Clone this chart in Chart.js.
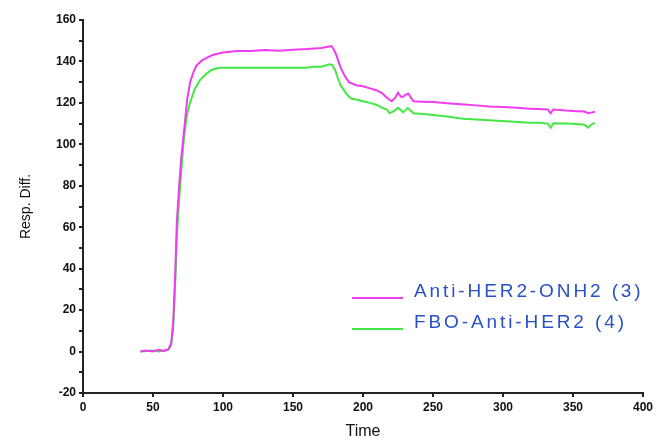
<!DOCTYPE html>
<html>
<head>
<meta charset="utf-8">
<title>Resp. Diff. vs Time</title>
<script src="https://cdn.jsdelivr.net/npm/chart.js@4.4.1/dist/chart.umd.min.js"></script>
<style>
  html, body { margin: 0; padding: 0; background: #fff; }
  #wrap { width: 656px; height: 441px; position: relative; }
</style>
</head>
<body>
<div id="wrap"><canvas id="chart"></canvas></div>
<script>
// series: [time, response]
const antiHer2Onh2 = [
  [41,0],[45,0.5],[50,0],[54,0.8],[58,0.3],[61,1],[63,4],[64.5,15],[66,40],[67,62],
  [68.5,78],[70,92],[71.5,102],[73,112],[74.5,122],[76.5,130],[79,135],[81,138],
  [85,140.5],[90,142.3],[93,143.2],[100,144.3],[110,145],[120,145],[130,145.5],[140,145.2],
  [150,145.7],[160,146],[170,146.5],[174,147],[177.5,147.4],[179,146],[181,143],[184,137],
  [187,133],[190,130],[195,128.5],[200,128],[205,127],[210,126],[214,124.5],[217,122.5],
  [220.5,120.8],[223,122.5],[225,124.9],[227,123],[228.8,123],[230.5,124],[232.4,124.4],
  [236,120.8],[242,120.6],[250,120.4],[260,119.8],[270,119.3],[281,118.8],[290,118.3],
  [300,118],[310,117.6],[319,117.2],[325,117],[332,116.8],[334,115],[336,116.8],[345,116.3],
  [352.6,116],[358,115.8],[361,115],[363,115.3],[365.7,115.7]
];
const fboAntiHer2 = [
  [41,0],[45,0.3],[50,0.5],[54,0],[58,0.5],[61,1],[63,3],[64.5,12],[66,35],[67,55],
  [68.5,72],[70,85],[71.7,100],[73,108],[74.5,115],[76.4,120],[80,127],[83.6,131],
  [88,134],[92,136],[97.9,137],[105,137],[120,137],[140,137],[150,137],[160,137],
  [165,137.5],[170,137.5],[174,138.2],[176,138.6],[178,138.3],[180,136],[182,132],
  [184,128.5],[186,126.5],[188,124.5],[190.7,122.5],[192,122],[196,121.5],[200,120.8],
  [205,120],[210,119],[214,117.5],[217,116.8],[219,115],[222,116],[225,117.6],[227,116.5],
  [228.8,115.5],[230.5,116.5],[232,117.6],[236,115],[245,114.5],[260,113.4],[271.6,112.3],
  [290,111.6],[305,111],[319,110.4],[326,110.4],[332,110],[334,108],[336,110.2],[345,110],
  [352,109.8],[357,109.6],[359,109],[361,108],[363,109.5],[365.7,110.4]
];
const seriesLabels = ['Anti-HER2-ONH2 (3)', 'FBO-Anti-HER2 (4)'];
const seriesColors = ['#f03cf0', '#44e844'];
const xTicks = [0, 50, 100, 150, 200, 250, 300, 350, 400];
const yTicks = [-20, 0, 20, 40, 60, 80, 100, 120, 140, 160];

const toPoints = arr => arr.map(p => ({ x: p[0], y: p[1] }));

// legend sits inside the plot, lower right
const insideLegend = {
  id: 'insideLegend',
  afterDraw(chart) {
    const ctx = chart.ctx;
    const a = chart.chartArea;
    ctx.save();
    ctx.font = '19px "Liberation Sans", Arial, sans-serif';
    ctx.textBaseline = 'middle';
    const rows = [a.bottom - 101, a.bottom - 70];
    seriesLabels.forEach((txt, i) => {
      const y = rows[i];
      ctx.strokeStyle = seriesColors[i];
      ctx.lineWidth = 2;
      ctx.beginPath();
      ctx.moveTo(a.left + 269, y + 6);
      ctx.lineTo(a.left + 320, y + 6);
      ctx.stroke();
      ctx.fillStyle = '#2a50c8';
      ctx.letterSpacing = '2.9px';
      ctx.fillText(txt, a.left + 331, y);
    });
    ctx.restore();
  }
};

new Chart(document.getElementById('chart'), {
  type: 'line',
  data: {
    datasets: [
      { label: seriesLabels[0], data: toPoints(antiHer2Onh2), borderColor: seriesColors[0],
        borderWidth: 2, pointRadius: 0, tension: 0, fill: false },
      { label: seriesLabels[1], data: toPoints(fboAntiHer2), borderColor: seriesColors[1],
        borderWidth: 2, pointRadius: 0, tension: 0, fill: false }
    ]
  },
  options: {
    responsive: true,
    maintainAspectRatio: false,
    animation: false,
    layout: { padding: { top: 20, right: 13, left: 0, bottom: 0 } },
    plugins: { legend: { display: false }, tooltip: { enabled: false } },
    scales: {
      x: {
        type: 'linear',
        min: 0, max: 400,
        afterFit(s) { s.height = 48; },
        afterBuildTicks(s) { s.ticks = xTicks.map(v => ({ value: v })); },
        border: { display: true, color: '#222', width: 2 },
        grid: { drawOnChartArea: false, drawTicks: true, tickLength: 4, color: '#222', lineWidth: 2 },
        ticks: { color: '#111', font: { family: '"Liberation Sans", Arial', size: 12, weight: 'bold' }, padding: 3, maxRotation: 0, autoSkip: false },
        title: { display: true, text: 'Time', color: '#111',
          font: { family: '"Liberation Sans", Arial', size: 16 }, padding: { top: 0, bottom: 0 } }
      },
      y: {
        type: 'linear',
        min: -20, max: 160,
        afterFit(s) { s.width = 83; },
        afterBuildTicks(s) {
          const t = [];
          for (let v = -20; v <= 160; v += 10) t.push({ value: v });
          s.ticks = t;
        },
        border: { display: true, color: '#222', width: 2 },
        grid: { drawOnChartArea: false, drawTicks: true, tickLength: 4, color: '#222', lineWidth: 2 },
        ticks: {
          color: '#111', font: { family: '"Liberation Sans", Arial', size: 12, weight: 'bold' },
          padding: 3, autoSkip: false,
          callback: v => yTicks.includes(v) ? String(v) : ''
        },
        title: { display: true, text: 'Resp. Diff.', color: '#111',
          font: { family: '"Liberation Sans", Arial', size: 14 }, padding: { top: 18, bottom: 0 } }
      }
    }
  },
  plugins: [insideLegend]
});
</script>
</body>
</html>
